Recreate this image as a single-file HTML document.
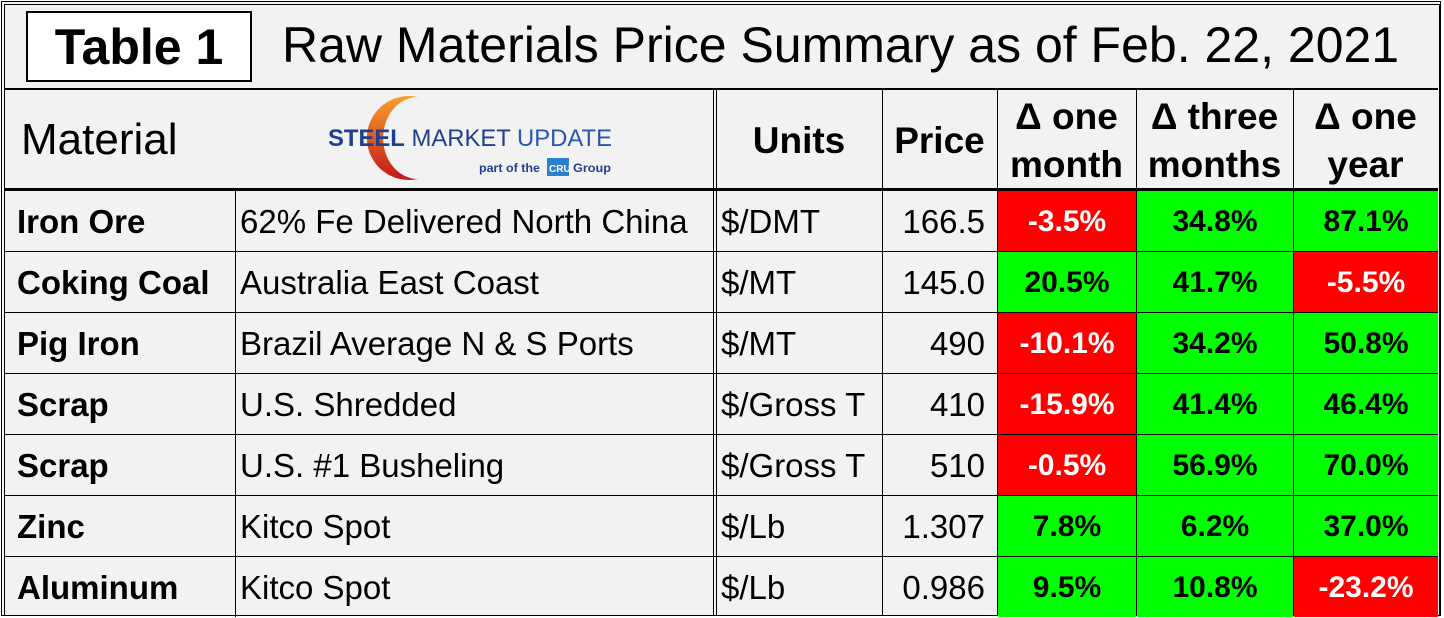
<!DOCTYPE html>
<html><head><meta charset="utf-8"><style>
body{margin:0;width:1444px;height:618px;background:#fff;overflow:hidden;font-family:"Liberation Sans",Arial,sans-serif}
#t{position:absolute;left:0;top:0;width:1444px;height:618px}
.frame{position:absolute;left:1px;top:1px;width:1438px;height:613px;border:1px solid #000;background:#f2f2f2}
.frame2{position:absolute;left:4px;top:4px;width:1434px;height:610px;border:1px solid #000}
.c{position:absolute;box-sizing:border-box;display:flex;align-items:center;color:#000;white-space:nowrap}
.hl{position:absolute;background:#000}
</style></head><body>
<div id="t">
<div class="frame"></div>
<div class="frame2"></div>
<div style="position:absolute;left:26px;top:11px;width:222px;height:67px;border:2px solid #000;background:#fff;display:flex;align-items:center;justify-content:center;font-weight:bold;font-size:50px">Table 1</div>
<div style="position:absolute;left:282px;top:17px;font-size:50px;line-height:56px;white-space:nowrap">Raw Materials Price Summary as of Feb. 22, 2021</div>
<div class="c" style="left:21px;top:90px;height:100px;font-size:44px">Material</div>
<div style="position:absolute;left:320px;top:92px;width:300px;height:96px">
<svg width="300" height="96" viewBox="0 0 300 96"><defs><linearGradient id="g" x1="0" y1="0" x2="0" y2="1"><stop offset="0" stop-color="#f7a02a"/><stop offset="1" stop-color="#c4161c"/></linearGradient></defs>
<path d="M98 5 A42 42 0 1 0 98 87 A34 40 0 1 1 98 5Z" fill="url(#g)"/>
<text x="8" y="54" font-family="Liberation Sans" font-size="24" fill="#1f3f8f" textLength="284" lengthAdjust="spacingAndGlyphs"><tspan font-weight="bold">STEEL</tspan> MARKET <tspan fill="#2a56b0">UPDATE</tspan></text>
<text x="159" y="80" font-family="Liberation Sans" font-weight="bold" font-size="12" fill="#1f3f8f" textLength="61" lengthAdjust="spacingAndGlyphs">part of the</text>
<rect x="227" y="66" width="22" height="18" fill="#2a7fd0"/><text x="229" y="80" font-family="Liberation Sans" font-weight="bold" font-size="10" fill="#fff">CRU</text>
<text x="253" y="80" font-family="Liberation Sans" font-weight="bold" font-size="12" fill="#1f3f8f" textLength="38" lengthAdjust="spacingAndGlyphs">Group</text>
</svg></div>
</div>
<script>
const materials=["Iron Ore","Coking Coal","Pig Iron","Scrap","Scrap","Zinc","Aluminum"];
const descriptions=["62% Fe Delivered North China","Australia East Coast","Brazil Average N & S Ports","U.S. Shredded","U.S. #1 Busheling","Kitco Spot","Kitco Spot"];
const units=["$/DMT","$/MT","$/MT","$/Gross T","$/Gross T","$/Lb","$/Lb"];
const prices=["166.5","145.0","490","410","510","1.307","0.986"];
const oneMonth=[-3.5,20.5,-10.1,-15.9,-0.5,7.8,9.5];
const threeMonths=[34.8,41.7,34.2,41.4,56.9,6.2,10.8];
const oneYear=[87.1,-5.5,50.8,46.4,70.0,37.0,-23.2];
const T=document.getElementById('t');
const colX=[4,235,716,882,997,1136,1293,1438];
const rowY0=190, rowH=61;
function cell(x,y,w,h,html,style,name){const d=document.createElement('div');d.className='c';d.style.cssText=`left:${x}px;top:${y}px;width:${w}px;height:${h}px;`+style;d.innerHTML=html;


T.appendChild(d);return d;}
function line(x,y,w,h,name){const d=document.createElement('div');d.className='hl';d.style.cssText=`left:${x}px;top:${y}px;width:${w}px;height:${h}px`;


T.appendChild(d);}
const hdrs=["Units","Price","Δ one<br>month","Δ three<br>months","Δ one<br>year"];
hdrs.forEach((h,i)=>cell(colX[i+2],90,colX[i+3]-colX[i+2],98,h,"justify-content:center;text-align:center;font-weight:bold;font-size:37px;line-height:48px;padding-top:4px;","header-"+i));
const fmt=v=>v.toFixed(1)+"%";
for(let r=0;r<materials.length;r++){
 const y=rowY0+r*rowH;
 cell(colX[0],y,colX[1]-colX[0],rowH,materials[r],"padding-left:13px;padding-top:3px;font-weight:bold;font-size:33px;","material-"+r);
 cell(colX[1],y,colX[2]-colX[1],rowH,descriptions[r],"padding-left:5px;padding-top:3px;font-size:33px;","description-"+r);
 cell(colX[2],y,colX[3]-colX[2],rowH,units[r],"padding-left:5px;padding-top:3px;font-size:33px;","units-"+r);
 cell(colX[3],y,colX[4]-colX[3],rowH,prices[r],"justify-content:flex-end;padding-right:12px;padding-top:3px;font-size:33px;","price-"+r);
 [oneMonth,threeMonths,oneYear].forEach((arr,k)=>{const v=arr[r];const neg=v<0;
  cell(colX[4+k]+1,y+1,colX[5+k]-colX[4+k]-1,rowH-1,fmt(v),`justify-content:center;padding-top:2px;font-weight:bold;font-size:30px;background:${neg?'#ff0000':'#00ff00'};color:${neg?'#fff':'#000'};`,"change-"+k+"-"+r);});
}
line(4,88,1434,2,"title-divider");
line(4,188,1434,3,"header-divider");
for(let r=1;r<materials.length;r++) line(4,rowY0+r*rowH,1434,1,"row-line-"+r);
line(colX[1],rowY0,1,rowH*7,"col-line-1");
line(colX[2]-3,90,1,526,"col-line-2a");
line(colX[2],90,1,526,"col-line-2b");
for(let i=3;i<7;i++) line(colX[i],90,1,526,"col-line-"+i);
</script>
</body></html>
